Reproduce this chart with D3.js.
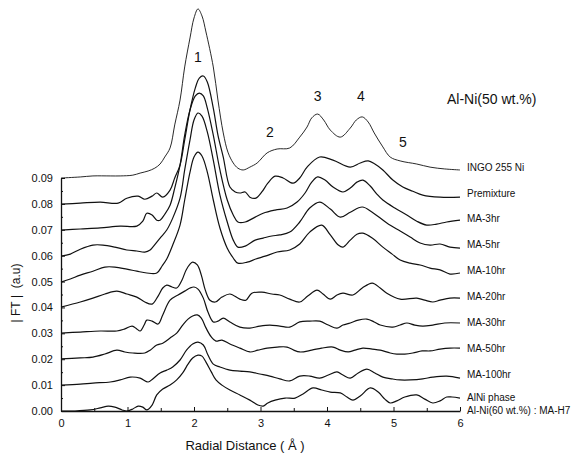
<!DOCTYPE html>
<html>
<head>
<meta charset="utf-8">
<script src="https://cdn.jsdelivr.net/npm/d3@7"></script>
<style>
  body { margin: 0; background: #fff; }
  svg { display: block; font-family: "Liberation Sans", Arial, sans-serif; }
</style>
</head>
<body>
<div id="chart"></div>
<script>
// EXAFS Fourier transforms, [R (A), |FT| with offset]
const ingo = [[0,0.0900],[0.29,0.0904],[0.48,0.0908],[0.74,0.0908],[0.89,0.0908],[1.08,0.0911],[1.19,0.0919],[1.31,0.0927],[1.41,0.0938],[1.49,0.0954],[1.56,0.0981],[1.64,0.1016],[1.71,0.1105],[1.79,0.1201],[1.86,0.1329],[1.94,0.1441],[2.00,0.1518],[2.06,0.1553],[2.12,0.1526],[2.18,0.1464],[2.29,0.1329],[2.36,0.1201],[2.44,0.1074],[2.51,0.1000],[2.59,0.0958],[2.66,0.0938],[2.74,0.0931],[2.84,0.0942],[2.95,0.0958],[3.10,0.0997],[3.25,0.1012],[3.44,0.1016],[3.59,0.1058],[3.70,0.1097],[3.77,0.1132],[3.86,0.1147],[3.95,0.1124],[4.05,0.1085],[4.20,0.1058],[4.35,0.1093],[4.44,0.1124],[4.53,0.1136],[4.62,0.1116],[4.71,0.1074],[4.84,0.1020],[4.95,0.0981],[5.10,0.0966],[5.35,0.0954],[5.55,0.0942],[5.77,0.0935],[6.00,0.0931]];
const premixture = [[0,0.0799],[0.29,0.0803],[0.59,0.0807],[0.86,0.0803],[0.99,0.0822],[1.16,0.0830],[1.26,0.0818],[1.37,0.0830],[1.44,0.0842],[1.53,0.0826],[1.64,0.0853],[1.71,0.0900],[1.79,0.0950],[1.86,0.1047],[1.94,0.1163],[2.02,0.1248],[2.08,0.1286],[2.14,0.1294],[2.20,0.1271],[2.29,0.1170],[2.36,0.1066],[2.44,0.0981],[2.54,0.0865],[2.62,0.0846],[2.69,0.0842],[2.77,0.0846],[2.84,0.0826],[2.93,0.0822],[3.02,0.0846],[3.11,0.0880],[3.22,0.0907],[3.34,0.0900],[3.49,0.0880],[3.59,0.0900],[3.70,0.0942],[3.89,0.0981],[4.09,0.0969],[4.35,0.0942],[4.50,0.0958],[4.62,0.0966],[4.72,0.0954],[4.84,0.0931],[4.99,0.0892],[5.14,0.0865],[5.29,0.0849],[5.44,0.0834],[5.70,0.0826],[6.00,0.0826]];
const ma3 = [[0,0.0699],[0.29,0.0703],[0.59,0.0707],[0.89,0.0714],[1.14,0.0714],[1.23,0.0733],[1.29,0.0764],[1.37,0.0757],[1.44,0.0737],[1.49,0.0737],[1.56,0.0760],[1.64,0.0795],[1.71,0.0861],[1.79,0.0950],[1.86,0.1066],[1.94,0.1163],[2.02,0.1217],[2.08,0.1228],[2.14,0.1217],[2.20,0.1170],[2.29,0.1066],[2.39,0.0931],[2.50,0.0815],[2.59,0.0757],[2.66,0.0730],[2.77,0.0730],[2.92,0.0749],[3.04,0.0764],[3.22,0.0776],[3.40,0.0784],[3.55,0.0807],[3.67,0.0842],[3.77,0.0884],[3.86,0.0904],[3.97,0.0892],[4.09,0.0865],[4.24,0.0846],[4.35,0.0861],[4.45,0.0884],[4.54,0.0892],[4.65,0.0869],[4.75,0.0838],[4.84,0.0815],[5.02,0.0784],[5.20,0.0757],[5.35,0.0733],[5.50,0.0718],[5.65,0.0722],[5.80,0.0730],[6.00,0.0737]];
const ma5 = [[0,0.0598],[0.14,0.0606],[0.29,0.0625],[0.48,0.0641],[0.63,0.0641],[0.81,0.0633],[0.99,0.0622],[1.14,0.0618],[1.26,0.0614],[1.34,0.0622],[1.38,0.0633],[1.49,0.0668],[1.59,0.0699],[1.68,0.0745],[1.79,0.0822],[1.86,0.0931],[1.94,0.1047],[2.00,0.1124],[2.06,0.1151],[2.12,0.1139],[2.20,0.1078],[2.29,0.0969],[2.39,0.0834],[2.50,0.0730],[2.59,0.0660],[2.66,0.0633],[2.77,0.0637],[2.92,0.0660],[3.04,0.0668],[3.17,0.0676],[3.29,0.0680],[3.44,0.0691],[3.59,0.0730],[3.74,0.0784],[3.89,0.0807],[4.05,0.0780],[4.20,0.0749],[4.35,0.0768],[4.53,0.0788],[4.68,0.0768],[4.90,0.0726],[5.10,0.0695],[5.25,0.0672],[5.40,0.0649],[5.55,0.0641],[5.70,0.0645],[5.85,0.0633],[6.00,0.0629]];
const ma10 = [[0,0.0498],[0.14,0.0510],[0.29,0.0525],[0.48,0.0540],[0.66,0.0556],[0.81,0.0556],[0.99,0.0548],[1.14,0.0540],[1.29,0.0533],[1.44,0.0533],[1.52,0.0560],[1.59,0.0587],[1.68,0.0641],[1.79,0.0718],[1.86,0.0815],[1.94,0.0923],[2.00,0.0981],[2.06,0.1000],[2.12,0.0985],[2.20,0.0923],[2.29,0.0815],[2.39,0.0707],[2.50,0.0629],[2.59,0.0591],[2.66,0.0571],[2.80,0.0575],[2.93,0.0587],[3.07,0.0598],[3.25,0.0614],[3.44,0.0622],[3.59,0.0645],[3.74,0.0691],[3.92,0.0718],[4.05,0.0680],[4.17,0.0641],[4.24,0.0633],[4.35,0.0660],[4.45,0.0683],[4.54,0.0687],[4.68,0.0668],[4.84,0.0633],[4.98,0.0606],[5.10,0.0583],[5.25,0.0571],[5.40,0.0564],[5.55,0.0552],[5.70,0.0545],[5.85,0.0529],[6.00,0.0533]];
const ma20 = [[0,0.0401],[0.29,0.0421],[0.48,0.0436],[0.66,0.0452],[0.84,0.0463],[0.99,0.0452],[1.14,0.0440],[1.26,0.0421],[1.37,0.0413],[1.46,0.0444],[1.53,0.0475],[1.59,0.0486],[1.67,0.0479],[1.74,0.0475],[1.82,0.0506],[1.88,0.0544],[1.94,0.0567],[1.98,0.0575],[2.05,0.0564],[2.11,0.0525],[2.17,0.0467],[2.24,0.0428],[2.32,0.0421],[2.42,0.0440],[2.54,0.0452],[2.69,0.0432],[2.78,0.0428],[2.87,0.0455],[3.02,0.0459],[3.17,0.0452],[3.29,0.0448],[3.44,0.0432],[3.59,0.0421],[3.71,0.0444],[3.85,0.0467],[3.94,0.0452],[4.05,0.0432],[4.15,0.0448],[4.24,0.0455],[4.39,0.0448],[4.53,0.0475],[4.68,0.0494],[4.80,0.0475],[4.90,0.0455],[5.10,0.0432],[5.35,0.0436],[5.47,0.0428],[5.59,0.0421],[5.70,0.0428],[5.85,0.0436],[6.00,0.0436]];
const ma30 = [[0,0.0301],[0.29,0.0305],[0.59,0.0309],[0.84,0.0309],[0.96,0.0317],[1.07,0.0328],[1.14,0.0317],[1.19,0.0309],[1.25,0.0332],[1.29,0.0351],[1.37,0.0347],[1.46,0.0336],[1.53,0.0371],[1.64,0.0428],[1.76,0.0448],[1.86,0.0463],[1.94,0.0475],[2.00,0.0479],[2.06,0.0471],[2.14,0.0436],[2.21,0.0382],[2.29,0.0344],[2.36,0.0347],[2.44,0.0359],[2.54,0.0344],[2.69,0.0324],[2.84,0.0320],[2.99,0.0328],[3.14,0.0332],[3.29,0.0328],[3.44,0.0324],[3.59,0.0344],[3.74,0.0347],[3.89,0.0347],[4.02,0.0332],[4.15,0.0320],[4.24,0.0332],[4.35,0.0340],[4.47,0.0351],[4.60,0.0355],[4.71,0.0344],[4.80,0.0332],[4.99,0.0324],[5.10,0.0332],[5.20,0.0340],[5.32,0.0332],[5.44,0.0328],[5.59,0.0332],[5.77,0.0340],[6.00,0.0340]];
const ma50 = [[0,0.0201],[0.29,0.0205],[0.48,0.0208],[0.66,0.0220],[0.84,0.0235],[0.96,0.0228],[1.08,0.0224],[1.26,0.0224],[1.34,0.0235],[1.44,0.0255],[1.53,0.0262],[1.64,0.0282],[1.74,0.0301],[1.83,0.0332],[1.91,0.0355],[1.98,0.0367],[2.05,0.0371],[2.11,0.0359],[2.18,0.0321],[2.26,0.0286],[2.33,0.0270],[2.42,0.0274],[2.54,0.0259],[2.69,0.0243],[2.84,0.0228],[2.96,0.0235],[3.10,0.0243],[3.25,0.0247],[3.40,0.0247],[3.50,0.0235],[3.59,0.0228],[3.77,0.0235],[3.92,0.0243],[4.09,0.0247],[4.20,0.0235],[4.32,0.0228],[4.42,0.0235],[4.54,0.0243],[4.68,0.0239],[4.80,0.0235],[4.95,0.0224],[5.05,0.0220],[5.17,0.0220],[5.29,0.0224],[5.43,0.0232],[5.55,0.0232],[5.70,0.0239],[5.85,0.0243],[6.00,0.0243]];
const ma100 = [[0,0.0100],[0.29,0.0104],[0.48,0.0108],[0.74,0.0112],[0.89,0.0120],[1.04,0.0131],[1.19,0.0127],[1.31,0.0112],[1.38,0.0124],[1.49,0.0147],[1.59,0.0158],[1.68,0.0170],[1.79,0.0197],[1.89,0.0236],[1.98,0.0259],[2.06,0.0266],[2.14,0.0255],[2.21,0.0216],[2.29,0.0181],[2.39,0.0170],[2.54,0.0158],[2.69,0.0154],[2.84,0.0151],[2.99,0.0143],[3.14,0.0135],[3.29,0.0124],[3.44,0.0116],[3.59,0.0135],[3.74,0.0135],[3.89,0.0127],[4.02,0.0139],[4.15,0.0151],[4.24,0.0139],[4.35,0.0127],[4.47,0.0147],[4.60,0.0162],[4.72,0.0147],[4.84,0.0131],[4.98,0.0124],[5.10,0.0120],[5.25,0.0120],[5.44,0.0124],[5.59,0.0131],[5.80,0.0135],[6.00,0.0127]];
const alni = [[0,0],[0.21,0],[0.44,0.0004],[0.59,0.0012],[0.71,0.0019],[0.81,0.0015],[0.92,0.0004],[0.99,0],[1.08,0.0008],[1.16,0.0019],[1.23,0.0015],[1.29,0.0004],[1.37,0.0023],[1.44,0.0062],[1.53,0.0085],[1.64,0.0100],[1.74,0.0120],[1.83,0.0147],[1.91,0.0181],[1.98,0.0205],[2.06,0.0216],[2.12,0.0212],[2.18,0.0189],[2.26,0.0151],[2.33,0.0120],[2.42,0.0100],[2.54,0.0081],[2.69,0.0062],[2.84,0.0042],[2.96,0.0023],[3.04,0.0019],[3.11,0.0031],[3.22,0.0042],[3.37,0.0050],[3.52,0.0050],[3.64,0.0066],[3.79,0.0089],[3.92,0.0081],[4.05,0.0073],[4.20,0.0070],[4.30,0.0054],[4.39,0.0042],[4.50,0.0058],[4.65,0.0089],[4.77,0.0073],[4.87,0.0046],[4.95,0.0031],[5.05,0.0039],[5.17,0.0054],[5.35,0.0062],[5.47,0.0046],[5.59,0.0031],[5.70,0.0039],[5.80,0.0054],[5.88,0.0054],[6.00,0.0050]];

const sampleNames = ["INGO 255 Ni", "Premixture", "MA-3hr", "MA-5hr", "MA-10hr", "MA-20hr", "MA-30hr", "MA-50hr", "MA-100hr", "AlNi phase"];
const offsets = [0.09, 0.08, 0.07, 0.06, 0.05, 0.04, 0.03, 0.02, 0.01, 0.00];
const series = [ingo, premixture, ma3, ma5, ma10, ma20, ma30, ma50, ma100, alni];

// shell numbers placed above the peaks of the reference Ni
const peakLabels = ["1", "2", "3", "4", "5"];
const peakR = [2.06, 3.14, 3.86, 4.51, 5.14];
const peakV = [0.1348, 0.1058, 0.1197, 0.1197, 0.1019];

const xTicks = [0, 1, 2, 3, 4, 5, 6];
const yTicks = [0, 0.01, 0.02, 0.03, 0.04, 0.05, 0.06, 0.07, 0.08, 0.09];

const W = 587, H = 455;
const svg = d3.select("#chart").append("svg")
  .attr("width", W)
  .attr("height", H);

const x = d3.scaleLinear().domain([0, 6]).range([61, 460]);
const y = d3.scaleLinear().domain([0, 0.09]).range([411, 178]);

//------axes
const yAxis = svg.append("g")
  .attr("transform", `translate(${x(0)},0)`)
  .call(d3.axisLeft(y).tickValues(yTicks).tickFormat(d3.format(".2f")).tickSize(-4).tickSizeOuter(0).tickPadding(8));
// minor ticks
svg.append("g")
  .attr("transform", `translate(${x(0)},0)`)
  .call(d3.axisLeft(y).tickValues(d3.range(0.005, 0.09, 0.01)).tickSize(-2).tickFormat(""))
  .select(".domain").remove();

const xAxis = svg.append("g")
  .attr("transform", `translate(0,${y(0)})`)
  .call(d3.axisBottom(x).tickValues(xTicks).tickFormat(d3.format("d")).tickSize(-4).tickSizeOuter(0).tickPadding(8));
svg.append("g")
  .attr("transform", `translate(0,${y(0)})`)
  .call(d3.axisBottom(x).tickValues(d3.range(0.5, 6, 1)).tickSize(-3).tickFormat(""))
  .select(".domain").remove();

svg.selectAll(".domain").attr("stroke", "#111").attr("stroke-width", 1.3);
svg.selectAll(".tick line").attr("stroke", "#111").attr("stroke-width", 1);
yAxis.selectAll("text").style("font-size", "11px").attr("fill", "#111");
xAxis.selectAll("text").style("font-size", "11px").attr("fill", "#111");

//------curves
const line = d3.line()
  .x(d => x(d[0]))
  .y(d => y(d[1]))
  .curve(d3.curveCatmullRom.alpha(0.5));

svg.append("g").selectAll("path")
  .data(series)
  .enter()
  .append("path")
  .attr("d", line)
  .attr("fill", "none")
  .attr("stroke", "#111")
  .attr("stroke-width", (d, i) => i == 0 ? 0.9 : 1.2)
  .attr("stroke-linejoin", "round");

//------sample names on the right
svg.append("g").selectAll("text")
  .data(sampleNames)
  .enter()
  .append("text")
  .attr("x", 467)
  .attr("y", (d, i) => y(offsets[i] + 0.0042) + (i == 9 ? -3 : 0))
  .attr("dy", "0.35em")
  .style("font-size", "10px")
  .attr("fill", "#111")
  .text(d => d);

svg.append("text")
  .attr("x", 467)
  .attr("y", y(0) - 1)
  .attr("dy", "0.35em")
  .style("font-size", "10px")
  .attr("fill", "#111")
  .text("Al-Ni(60 wt.%) : MA-H7");

//------peak numbers
svg.append("g").selectAll("text")
  .data(peakLabels)
  .enter()
  .append("text")
  .attr("x", (d, i) => x(peakR[i]))
  .attr("y", (d, i) => y(peakV[i]))
  .attr("text-anchor", "middle")
  .style("font-size", "14px")
  .attr("fill", "#111")
  .text(d => d);

svg.append("text")
  .attr("x", 447)
  .attr("y", 104)
  .style("font-size", "14px")
  .attr("fill", "#111")
  .text("Al-Ni(50 wt.%)");

//------axis titles
svg.append("text")
  .attr("x", 245)
  .attr("y", 450)
  .attr("text-anchor", "middle")
  .style("font-size", "13px")
  .attr("fill", "#111")
  .text("Radial Distance ( Å )");

svg.append("text")
  .attr("transform", "translate(20,293) rotate(-90)")
  .attr("text-anchor", "middle")
  .style("font-size", "12px")
  .attr("fill", "#111")
  .text("|\u00a0FT\u00a0|\u00a0\u00a0(a.u)");
</script>
</body>
</html>
